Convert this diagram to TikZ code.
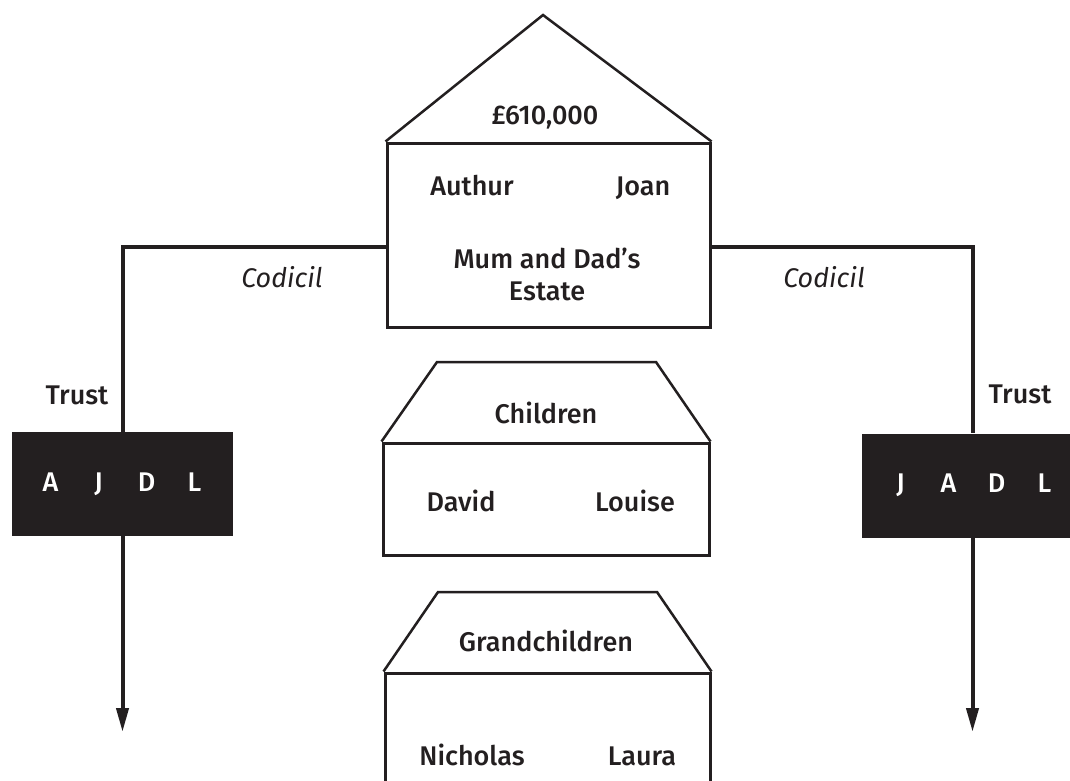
\documentclass[tikz,border=0pt]{standalone}
\usepackage{fontspec}
\setmainfont{Fira Sans}[UprightFont=* Medium, ItalicFont=* Italic]
\usetikzlibrary{arrows.meta}
\definecolor{ink}{HTML}{231F20}
\tikzset{
  lbl/.style={font=\fontsize{27}{31}\selectfont, text=ink, inner sep=0pt, anchor=base},
  cod/.style={font=\fontsize{27}{31}\selectfont\itshape, text=ink, inner sep=0pt, anchor=base},
  housebox/.style={draw=ink, line width=3pt, inner sep=0pt},
  roof/.style={draw=ink, line width=2.5pt, line join=miter},
  trustbox/.style={fill=ink, text=white, minimum width=221pt, minimum height=104pt, inner sep=0pt, font=\fontsize{27}{31}\selectfont},
  conn/.style={draw=ink, line width=4pt},
  arr/.style={conn, -{Triangle[width=12pt,length=24pt]}},
}
\newcommand{\ltr}[1]{\makebox[48pt]{#1}}
\begin{document}
\begin{tikzpicture}[x=1pt,y=-1pt]
\fill[white] (0,0) rectangle (1070,780);
\useasboundingbox (0,0) rectangle (1070,780);

% estate house
\node[housebox, minimum width=323pt, minimum height=184pt] (estate) at (548.5,235) {};
\coordinate (apex) at (543,15);
\draw[roof] (estate.north west) -- (apex) -- (estate.north east);
\node[lbl] (value) at (545,124) {£610,000};
\node[lbl] (authur) at (472,195) {Authur};
\node[lbl] (joan) at (643,195) {Joan};
\node[lbl] (estatelbl1) at (547,268) {Mum and Dad’s};
\node[lbl] (estatelbl2) at (547,300) {Estate};

% children house
\node[housebox, minimum width=326pt, minimum height=112pt] (children) at (546,499) {};
\coordinate (cTL) at (437,362);
\coordinate (cTR) at (656,362);
\draw[roof] (children.north west) -- (cTL) -- (cTR) -- (children.north east);
\node[lbl] (childlbl) at (546,423) {Children};
\node[lbl] (david) at (461,511) {David};
\node[lbl] (louise) at (635,511) {Louise};

% grandchildren house
\node[housebox, minimum width=325pt, minimum height=227pt] (grand) at (547.5,786.5) {};
\coordinate (gTL) at (438,592);
\coordinate (gTR) at (657,592);
\draw[roof] (grand.north west) -- (gTL) -- (gTR) -- (grand.north east);
\node[lbl] (grandlbl) at (546,651) {Grandchildren};
\node[lbl] (nicholas) at (472,765) {Nicholas};
\node[lbl] (laura) at (642,765) {Laura};

% trusts
\node[trustbox] (trustL) at (122.5,484) {\ltr{A}\ltr{J}\ltr{D}\ltr{L}};
\node[trustbox] (trustR) at (972.5,485.5) {\ltr{J}\ltr{A}\ltr{D}\ltr{L}};
\node[lbl] (trustLlbl) at (77,404) {Trust};
\node[lbl] (trustRlbl) at (1020,403) {Trust};
\node[cod] (codL) at (282,287) {Codicil};
\node[cod] (codR) at (824,287) {Codicil};

% connectors
\coordinate (arrowL) at (122.5,732);
\coordinate (arrowR) at (972.5,732);
\draw[conn] (estate.west |- 0,247) -| (trustL.north);
\draw[conn] (estate.east |- 0,247) -| (trustR.north);
\draw[arr] (trustL.south) -- (arrowL);
\draw[arr] (trustR.south) -- (arrowR);
\end{tikzpicture}
\end{document}
